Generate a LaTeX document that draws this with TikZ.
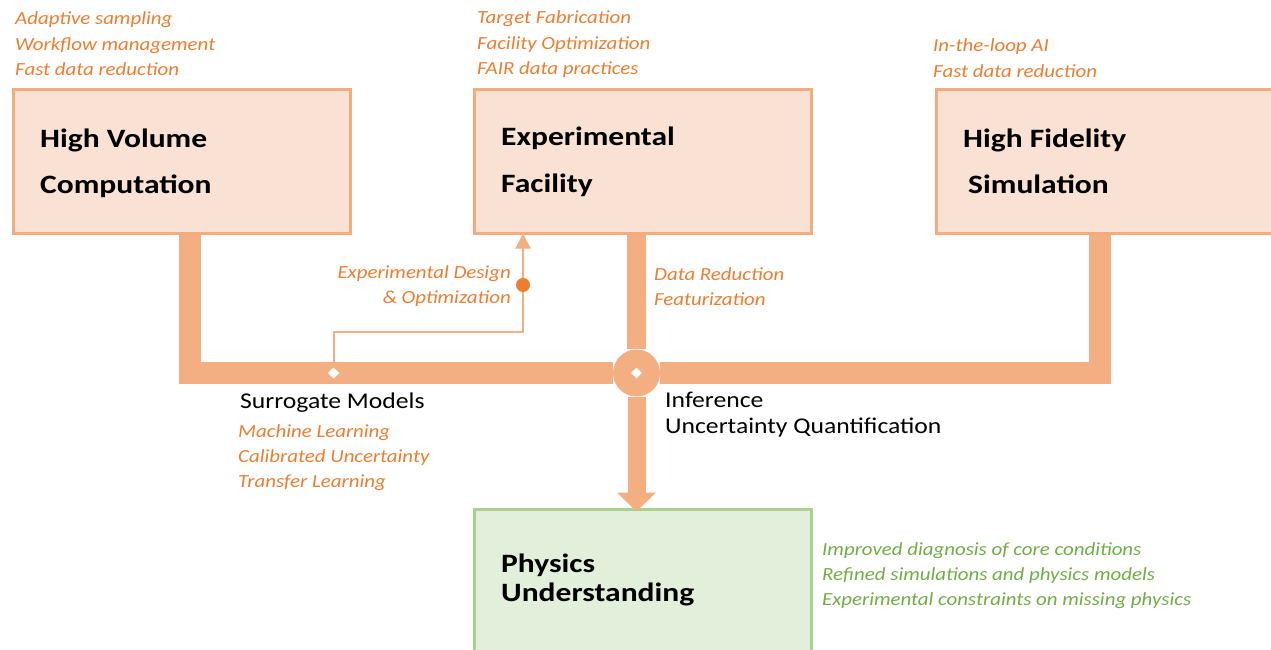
\documentclass[tikz,border=0pt]{standalone}
\usepackage{fontspec}
\setmainfont{Carlito}
\newfontfamily\titlefont{Carlito}[FakeStretch=1.19]
\newfontfamily\labfont{Carlito}[FakeStretch=1.13]
\newfontfamily\blabfont{Carlito}[FakeStretch=1.14]
\usetikzlibrary{arrows.meta,shapes.geometric}
\definecolor{conn}{RGB}{243,175,130}
\definecolor{boxfill}{RGB}{249,225,212}
\definecolor{boxline}{RGB}{242,172,125}
\definecolor{orangetxt}{RGB}{237,125,49}
\definecolor{greentxt}{RGB}{112,173,71}
\definecolor{greenline}{RGB}{169,209,142}
\definecolor{greenfill}{RGB}{226,239,218}
\begin{document}
\begin{tikzpicture}[x=1pt,y=-1pt,
  box/.style={draw=boxline, fill=boxfill, line width=3pt, inner sep=0pt},
  gbox/.style={draw=greenline, fill=greenfill, line width=3pt, inner sep=0pt},
  title/.style={anchor=base west, inner sep=0pt, font=\titlefont\fontsize{26.5}{31}\selectfont\bfseries},
  lab/.style={anchor=base west, inner sep=0pt, text=orangetxt, font=\labfont\fontsize{18.5}{22}\selectfont\itshape},
  labr/.style={lab, anchor=base east},
  glab/.style={lab, text=greentxt},
  blab/.style={anchor=base west, inner sep=0pt, text=black, font=\blabfont\fontsize{22.5}{26}\selectfont},
  bus/.style={draw=conn, line width=22pt, miter limit=10},
  thinconn/.style={draw=conn, line width=2pt},
  wdiam/.style={diamond, fill=white, inner sep=0pt, minimum width=11pt, minimum height=11pt},
  dotnode/.style={circle, fill=orangetxt, inner sep=0pt, minimum size=14pt}
]
\useasboundingbox (0,0) rectangle (1271,650);

% boxes
\node[box, minimum width=337pt, minimum height=143pt] (hvc) at (181.5,161.5) {};
\node[box, minimum width=337pt, minimum height=143pt] (ef) at (642.5,161.5) {};
\node[box, minimum width=346pt, minimum height=143pt] (hfs) at (1109,161.5) {};
\node[gbox, minimum width=337pt, minimum height=160pt] (pu) at (642.5,589.5) {};

% titles
\node[title] (t1a) at (40,147) {High Volume};
\node[title] (t1b) at (40,193) {Computation};
\node[title] (t2a) at (501,146) {Experimental};
\node[title] (t2b) at (501,192) {Facility};
\node[title] (t3a) at (963,147) {High Fidelity};
\node[title] (t3b) at (968,193) {Simulation};
\node[title] (t4a) at (501,572) {Physics};
\node[title] (t4b) at (501,601) {Understanding};

% top labels
\node[lab] (l1a) at (15,25) {Adaptive sampling};
\node[lab] (l1b) at (15,50.5) {Workflow management};
\node[lab] (l1c) at (15,76) {Fast data reduction};
\node[lab] (l2a) at (477,24) {Target Fabrication};
\node[lab] (l2b) at (477,49.5) {Facility Optimization};
\node[lab] (l2c) at (477,75) {FAIR data practices};
\node[lab] (l3a) at (933,52) {In-the-loop AI};
\node[lab] (l3b) at (933,77.5) {Fast data reduction};

% hub and bus
\node[circle, fill=conn, inner sep=0pt, minimum size=47pt] (hub) at (636.5,373) {};
\draw[bus] ([xshift=8.5pt]hvc.south) |- (hub) -| ([xshift=-9pt]hfs.south);
\draw[draw=conn, line width=19pt] ([xshift=-6pt]ef.south) -- (hub);
\draw[draw=conn, line width=18pt, -{Triangle[width=38pt,length=19pt]}] (hub) -- ([yshift=-3.5pt]pu.north -| hub);
\node[wdiam] (hubd) at (hub.center) {};

% surrogate thin connector
\node[wdiam] (sd) at (333.5,373) {};
\coordinate (bend) at (333.5,332);
\draw[thinconn, -{Triangle[width=15pt,length=15pt]}] (sd.center) -- (bend) -| ([xshift=-119.5pt,yshift=1pt]ef.south);
\node[dotnode] (dot) at (523,285) {};
\node[wdiam] (sd2) at (333.5,373) {};

% mid labels
\node[labr] (ed1) at (511,278) {Experimental Design};
\node[labr] (ed2) at (511,303) {\& Optimization};
\node[lab] (dr1) at (654,280) {Data Reduction};
\node[lab] (dr2) at (654,305) {Featurization};

\node[blab] (sm) at (240,408) {Surrogate Models};
\node[lab] (sm1) at (238,437) {Machine Learning};
\node[lab] (sm2) at (238,462) {Calibrated Uncertainty};
\node[lab] (sm3) at (238,487) {Transfer Learning};

\node[blab] (inf1) at (665,407) {Inference};
\node[blab] (inf2) at (665,433) {Uncertainty Quantification};

% green labels
\node[glab] (g1) at (822,555) {Improved diagnosis of core conditions};
\node[glab] (g2) at (822,580) {Refined simulations and physics models};
\node[glab] (g3) at (822,605) {Experimental constraints on missing physics};
\end{tikzpicture}
\end{document}
